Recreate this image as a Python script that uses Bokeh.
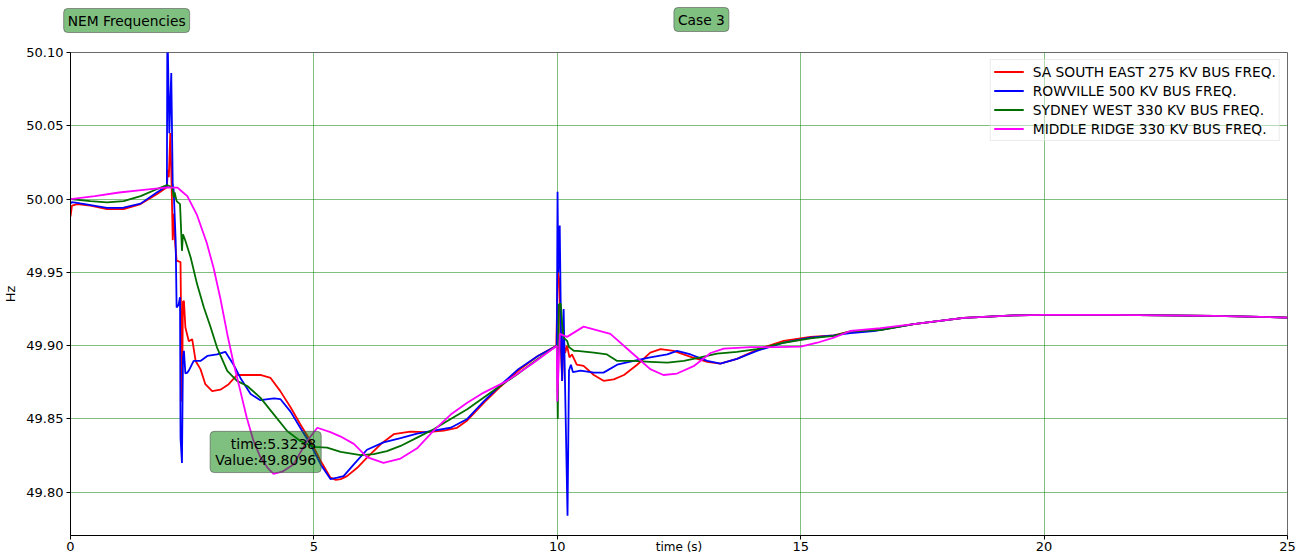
from bokeh.plotting import figure
from bokeh.models import Label, FixedTicker, NumeralTickFormatter, Range1d
from bokeh.embed import file_html
from bokeh.resources import INLINE

# ---------------- data ----------------
series_names = ["SA SOUTH EAST 275 KV BUS FREQ.", "ROWVILLE 500 KV BUS FREQ.",
                "SYDNEY WEST 330 KV BUS FREQ.", "MIDDLE RIDGE 330 KV BUS FREQ."]
x_ticks = [0, 5, 10, 15, 20, 25]
y_ticks = [49.80, 49.85, 49.90, 49.95, 50.00, 50.05, 50.10]

t_red = [0, 0.03, 0.14, 0.41, 0.75, 1.09, 1.44, 1.78, 1.98, 2.00,
         2.02, 2.05, 2.08, 2.10, 2.12, 2.15, 2.18, 2.26, 2.27, 2.29,
         2.31, 2.33, 2.36, 2.43, 2.50, 2.57, 2.67, 2.77, 2.91, 3.08,
         3.25, 3.42, 3.63, 3.90, 4.11, 4.31, 4.52, 4.72, 4.93, 5.14,
         5.34, 5.45, 5.55, 5.68, 5.89, 6.09, 6.37, 6.64, 6.98, 7.33,
         7.67, 7.94, 8.15, 8.49, 8.83, 9.20, 9.60, 9.98, 10.01, 10.04,
         10.07, 10.10, 10.13, 10.16, 10.20, 10.25, 10.30, 10.40, 10.54, 10.75,
         10.95, 11.16, 11.37, 11.64, 11.91, 12.12, 12.39, 12.74, 13.08, 13.35,
         13.69, 14.10, 14.65, 15.20, 15.68, 16.02, 16.64, 17.32, 18.35, 19.38,
         20.0, 21.4, 23.5, 25.0]
f_red = [49.988, 49.9955, 49.9966, 49.9955, 49.9932, 49.9932, 49.9966, 50.0035, 50.008, 50.020,
         50.015, 50.045, 50.005, 49.972, 49.990, 49.970, 49.958, 49.957, 49.926, 49.862,
         49.930, 49.9306, 49.9124, 49.903, 49.9044, 49.8896, 49.884, 49.8737, 49.869, 49.870,
         49.8737, 49.880, 49.880, 49.880, 49.878, 49.869, 49.858, 49.8464, 49.835, 49.8213,
         49.810, 49.8085, 49.809, 49.811, 49.8167, 49.8236, 49.8327, 49.8396, 49.8413, 49.841,
         49.842, 49.844, 49.849, 49.861, 49.872, 49.883, 49.893, 49.900, 49.951, 49.945,
         49.900, 49.876, 49.905, 49.895, 49.900, 49.892, 49.894, 49.887, 49.8862, 49.880,
         49.876, 49.877, 49.880, 49.887, 49.8953, 49.8976, 49.8965, 49.8924, 49.889, 49.8878,
         49.891, 49.8972, 49.9033, 49.906, 49.907, 49.9097, 49.911, 49.9147, 49.919, 49.9206,
         49.921, 49.921, 49.9203, 49.9192]

t_blue = [0, 0.03, 0.2, 0.75, 1.09, 1.44, 1.78, 1.98, 1.99, 2.03,
          2.07, 2.10, 2.12, 2.16, 2.18, 2.22, 2.25, 2.26, 2.29, 2.31,
          2.33, 2.36, 2.40, 2.43, 2.53, 2.67, 2.81, 3.01, 3.18, 3.35,
          3.49, 3.70, 3.90, 4.18, 4.31, 4.52, 4.72, 4.93, 5.14, 5.34,
          5.48, 5.61, 5.82, 6.09, 6.43, 6.78, 7.12, 7.46, 7.81, 8.15,
          8.49, 8.83, 9.20, 9.60, 9.99, 10.005, 10.02, 10.05, 10.08, 10.10,
          10.13, 10.21, 10.24, 10.28, 10.32, 10.48, 10.75, 10.95, 11.23, 11.57,
          11.91, 12.26, 12.46, 12.74, 13.08, 13.35, 13.69, 14.10, 14.65, 15.20,
          15.68, 16.02, 16.50, 17.32, 18.35, 19.38, 20.0, 21.4, 23.5, 25.0]
f_blue = [49.997, 49.998, 49.997, 49.994, 49.9941, 49.9969, 50.0046, 50.009, 50.12, 50.045,
          50.086, 50.010, 50.0057, 49.972, 49.926, 49.928, 49.933, 49.837, 49.820, 49.892,
          49.8965, 49.881, 49.8816, 49.883, 49.8896, 49.8896, 49.893, 49.894, 49.8958, 49.887,
          49.878, 49.867, 49.8628, 49.864, 49.8636, 49.855, 49.844, 49.8327, 49.819, 49.809,
          49.810, 49.811, 49.819, 49.829, 49.834, 49.837, 49.840, 49.842, 49.844, 49.850,
          49.862, 49.873, 49.884, 49.893, 49.900, 50.005, 49.950, 49.982, 49.900, 49.876,
          49.925, 49.784, 49.883, 49.887, 49.882, 49.883, 49.8816, 49.8816, 49.887, 49.8896,
          49.892, 49.894, 49.8965, 49.894, 49.8896, 49.8878, 49.891, 49.8965, 49.902, 49.9055,
          49.907, 49.9085, 49.910, 49.9147, 49.919, 49.9206, 49.921, 49.921, 49.9203, 49.9192]

t_green = [0, 0.41, 0.75, 1.09, 1.44, 1.78, 1.98, 2.09, 2.12, 2.14,
           2.18, 2.25, 2.29, 2.31, 2.36, 2.47, 2.60, 2.74, 2.88, 3.01,
           3.22, 3.42, 3.63, 3.90, 4.18, 4.45, 4.72, 5.00, 5.27, 5.55,
           5.96, 6.23, 6.50, 6.78, 7.12, 7.46, 7.81, 8.15, 8.49, 8.83,
           9.20, 9.60, 9.99, 10.01, 10.03, 10.07, 10.10, 10.13, 10.20, 10.24,
           10.34, 10.41, 10.75, 11.02, 11.23, 11.57, 11.91, 12.26, 12.60, 12.94,
           13.28, 13.69, 14.10, 14.65, 15.20, 15.68, 16.02, 16.64, 17.32, 18.35,
           19.38, 20.0, 21.4, 23.5, 25.0]
f_green = [50.000, 49.9986, 49.9978, 49.9986, 50.002, 50.0069, 50.0096, 50.008, 50.0012, 50.0046,
           49.9986, 49.9966, 49.9647, 49.976, 49.9716, 49.960, 49.942, 49.926, 49.9124, 49.8987,
           49.8828, 49.876, 49.8725, 49.8646, 49.853, 49.8418, 49.835, 49.831, 49.8304, 49.8275,
           49.8254, 49.826, 49.828, 49.8316, 49.8373, 49.843, 49.850, 49.8566, 49.8646, 49.8726,
           49.881, 49.891, 49.900, 49.850, 49.928, 49.9288, 49.9147, 49.9055, 49.9033, 49.899,
           49.8965, 49.8965, 49.8953, 49.894, 49.8896, 49.8896, 49.889, 49.8884, 49.8896, 49.892,
           49.8946, 49.8958, 49.8976, 49.902, 49.905, 49.9067, 49.9097, 49.9106, 49.9147, 49.919,
           49.9206, 49.921, 49.921, 49.9203, 49.9192]

t_mag = [0, 0.5, 1.0, 1.5, 2.0, 2.2, 2.26, 2.4, 2.6, 2.8,
         2.94, 3.08, 3.22, 3.35, 3.49, 3.62, 3.76, 3.90, 4.04, 4.17,
         4.35, 4.58, 4.86, 5.07, 5.34, 5.55, 5.82, 6.09, 6.43, 6.78,
         7.12, 7.46, 7.81, 8.15, 8.49, 8.97, 9.50, 9.99, 10.0, 10.05,
         10.2, 10.54, 11.09, 11.57, 11.91, 12.18, 12.46, 12.8, 13.15, 13.42,
         13.97, 14.52, 15.0, 15.34, 15.68, 16.02, 16.64, 17.32, 18.35, 19.38,
         20.0, 21.4, 23.5, 25.0]
f_mag = [50.000, 50.002, 50.0045, 50.0063, 50.008, 50.0078, 50.006, 50.002, 49.989, 49.970,
         49.953, 49.932, 49.908, 49.888, 49.869, 49.851, 49.835, 49.824, 49.817, 49.8126,
         49.814, 49.819, 49.835, 49.844, 49.841, 49.838, 49.833, 49.824, 49.820, 49.823,
         49.830, 49.842, 49.853, 49.861, 49.868, 49.876, 49.888, 49.900, 49.862, 49.908,
         49.906, 49.913, 49.908, 49.894, 49.884, 49.880, 49.881, 49.886, 49.895, 49.898,
         49.899, 49.899, 49.8994, 49.902, 49.9055, 49.910, 49.912, 49.9147, 49.919, 49.9206,
         49.921, 49.921, 49.9203, 49.9192]

marker_time = 5.3238
marker_value = 49.8096
tag_left = "NEM Frequencies"
tag_mid = "Case 3"

# ---------------- figure ----------------
FONT = "DejaVu Sans"
p = figure(width=1298, height=556,
           x_range=Range1d(0, 25), y_range=Range1d(49.7705, 50.10),
           output_backend="svg", toolbar_location=None,
           min_border_left=70, min_border_top=52, min_border_right=11, min_border_bottom=0,
           background_fill_color="white", border_fill_color="white")

colors = ["#ff0000", "#0000ff", "#006f00", "#ff00ff"]
data = [(t_red, f_red), (t_blue, f_blue), (t_green, f_green), (t_mag, f_mag)]
for (tt, ff), c, name in zip(data, colors, series_names):
    p.line(tt, ff, line_color=c, line_width=1.8, legend_label=name)

p.xaxis.ticker = FixedTicker(ticks=x_ticks)
p.yaxis.ticker = FixedTicker(ticks=y_ticks)
p.yaxis.formatter = NumeralTickFormatter(format="0.00")
for ax in (p.xaxis, p.yaxis):
    ax.major_label_text_font = FONT
    ax.major_label_text_font_size = "13px"
    ax.major_label_text_color = "black"
    ax.axis_line_color = "black"
    ax.major_tick_line_color = "black"
    ax.major_tick_in = 0
    ax.major_tick_out = 4
    ax.minor_tick_line_color = None
    ax.axis_label_text_font = FONT
    ax.axis_label_text_font_style = "normal"
    ax.axis_label_text_color = "black"
p.xaxis.major_label_standoff = 2
p.yaxis.major_label_standoff = 3
p.yaxis.axis_label = "Hz"
p.yaxis.axis_label_text_font_size = "13px"
p.yaxis.axis_label_standoff = 5
p.xaxis.axis_label = "time (s)"
p.xaxis.axis_label_text_font_size = "12px"
p.xaxis.axis_label_standoff = -14

p.grid.grid_line_color = "green"
p.grid.grid_line_alpha = 0.5
p.grid.grid_line_width = 1
p.outline_line_color = "#444444"
p.outline_line_alpha = 0.8

leg = p.legend[0]
leg.location = "top_right"
leg.margin = 7
leg.padding = 3
leg.spacing = 2
leg.label_text_font = FONT
leg.label_text_font_size = "13.8px"
leg.label_text_color = "black"
leg.label_height = 17
leg.glyph_height = 17
leg.glyph_width = 30
leg.label_standoff = 9
leg.border_line_color = "#d8d8d8"
leg.background_fill_alpha = 0.45

box_kw = dict(text_font=FONT, text_font_size="13.8px", text_color="black",
              background_fill_color="green", background_fill_alpha=0.5,
              border_line_color="#555555", border_line_alpha=0.6,
              padding=4, border_radius=4)

# tags above the frame: placed in the "above" side panels (not clipped);
# the second panel sits ~23px further from the frame than the first
p.add_layout(Label(x=-0.14, y=32, y_units="screen", text=tag_left,
                   text_align="left", text_baseline="middle", **box_kw), "above")
p.add_layout(Label(x=12.96, y=9, y_units="screen", text=tag_mid,
                   text_align="center", text_baseline="middle", **box_kw), "above")

ann_kw = dict(box_kw)
ann_kw["padding"] = 5
ann_kw["text_font_size"] = "14px"
p.add_layout(Label(x=5.15, y=49.8275, text_line_height=0.95,
                   text=f"time:{marker_time}\nValue:{marker_value}",
                   text_align="right", text_baseline="middle", **ann_kw))

open("out.html", "w").write(file_html(p, INLINE))
